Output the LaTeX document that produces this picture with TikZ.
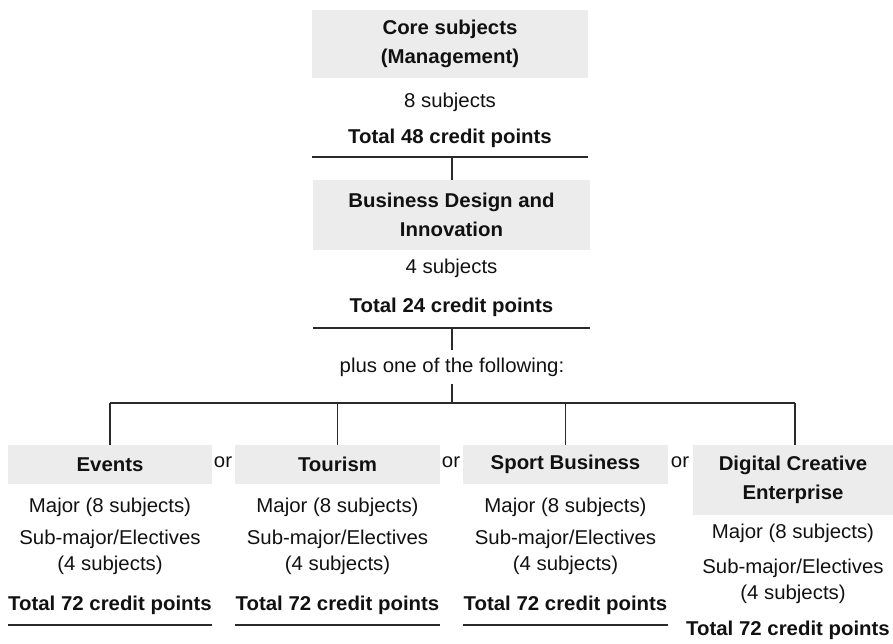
\documentclass[tikz,border=0pt]{standalone}
\usepackage{fontspec}
\setmainfont{Liberation Sans}[FakeStretch=1.02]
\definecolor{boxgray}{HTML}{ECECEC}
\definecolor{ink}{HTML}{111111}
\definecolor{linecol}{HTML}{2A2A2A}
\tikzset{
  box/.style={fill=boxgray, draw=none, align=center, font=\fontsize{20}{29}\selectfont\bfseries, text=ink, inner sep=0pt},
  txt/.style={align=center, font=\fontsize{20}{26}\selectfont, text=ink, inner sep=0pt},
  tot/.style={align=center, font=\fontsize{20}{22}\selectfont\bfseries, text=ink, inner sep=0pt},
  rule/.style={draw=linecol, line width=1.4pt},
  conn/.style={draw=linecol, line width=1.4pt},
}
\begin{document}
\begin{tikzpicture}[x=1pt,y=-1pt]
\useasboundingbox (0,0) rectangle (893,644);
% top block
\node[box, minimum width=276, minimum height=68] (core) at (450,44) {Core subjects\\(Management)};
\node[txt] (coresub) at (450,102) {8 subjects};
\node[tot] (coretot) at (450,138) {Total 48 credit points};
\coordinate (l1a) at (312,157);
\coordinate (l1b) at (588,157);
\coordinate (l1m) at (452,157);
\draw[rule] (l1a) -- (l1b);
% second block
\node[box, minimum width=277, minimum height=70] (bdi) at (451.5,215) {Business Design and\\Innovation};
\node[txt] (bdisub) at (451.5,268) {4 subjects};
\node[tot] (bditot) at (451.5,307) {Total 24 credit points};
\coordinate (l2a) at (313,328);
\coordinate (l2b) at (590,328);
\coordinate (l2m) at (452,328);
\draw[rule] (l2a) -- (l2b);
\draw[conn] (l1m) -- (l1m |- bdi.north);
% plus
\node[txt, minimum height=34] (plus) at (452,367) {plus one of the following:};
\draw[conn] (l2m) -- (plus.north);
\coordinate (bus) at (452,403);
\draw[conn] (plus.south) -- (bus);
% bottom boxes
\node[box, minimum width=204, minimum height=39] (ev) at (110,464.5) {Events};
\node[box, minimum width=205, minimum height=39] (to) at (337.5,464.5) {Tourism};
\node[box, minimum width=205, minimum height=39] (sp) at (565.5,464.5) {Sport Business};
\node[box, minimum width=200, minimum height=70] (dc) at (793,480) {Digital Creative\\Enterprise};
\coordinate (busl) at (ev.north |- bus);
\coordinate (busr) at (795,403);
\draw[conn] (busl) -- (busr);
\draw[conn] (busl) -- (ev.north);
\draw[conn] (to.north |- bus) -- (to.north);
\draw[conn] (sp.north |- bus) -- (sp.north);
\draw[conn] (busr) -- (busr |- dc.north);
% or labels
\node[txt] (or1) at (223,462) {or};
\node[txt] (or2) at (451,462) {or};
\node[txt] (or3) at (680,462) {or};
% column texts
\foreach \n/\x in {ev/110, to/337.5, sp/565.5}{
  \node[txt] (\n maj) at (\x,507) {Major (8 subjects)};
  \node[txt] (\n sub) at (\x,552) {Sub-major/Electives\\(4 subjects)};
  \node[tot] (\n tot) at (\x,605) {Total 72 credit points};
  \draw[rule] (\n.west |- 0,625) -- (\n.east |- 0,625);
}
\node[txt] (dcmaj) at (793,533) {Major (8 subjects)};
\node[txt] (dcsub) at (793,581) {Sub-major/Electives\\(4 subjects)};
\node[tot] (dctot) at (788,630) {Total 72 credit points};
\end{tikzpicture}
\end{document}
